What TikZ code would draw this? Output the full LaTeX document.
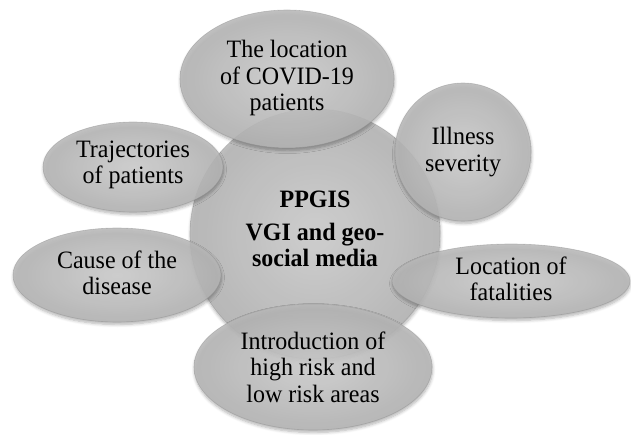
\documentclass[tikz,border=0pt]{standalone}
\usepackage{fontspec}
\setmainfont[FakeStretch=0.96]{Liberation Serif}
\usetikzlibrary{shapes.geometric,shadows.blur}

\definecolor{bubblein}{RGB}{210,210,210}
\definecolor{bubbleout}{RGB}{184,184,184}
\definecolor{bubbleedge}{RGB}{140,140,140}

\begin{document}
\begin{tikzpicture}[x=1pt,y=-1pt,
  bubble/.style={ellipse, inner sep=0pt, shade, inner color=bubblein,
    outer color=bubbleout, fill opacity=0.85, draw=bubbleedge,
    draw opacity=0.45, line width=0.6pt,
    blur shadow={shadow blur steps=6, shadow xshift=0.5pt,
      shadow yshift=-2.5pt, shadow opacity=35, shadow blur radius=3pt}},
  bubbletext/.style={align=center, text=black,
    font=\fontsize{25}{26.5}\selectfont}]

  % canvas: 631 x 435, y grows downwards
  \useasboundingbox (0,0) rectangle (631,435);

  % central hub
  \node[bubble, minimum width=250pt, minimum height=250pt] (hub) at (315,234) {};

  % surrounding themes
  \node[bubble, minimum width=214pt, minimum height=138pt] (covid) at (287,79) {};
  \node[bubble, minimum width=136pt, minimum height=138pt] (severity) at (463,152) {};
  \node[bubble, minimum width=180pt, minimum height=90pt] (traject) at (133,167) {};
  \node[bubble, minimum width=208pt, minimum height=94pt] (cause) at (117,275) {};
  \node[bubble, minimum width=238pt, minimum height=74pt] (fatal) at (511,281) {};
  \node[bubble, minimum width=238pt, minimum height=126pt] (risk) at (313,367) {};

  % texts
  \node[bubbletext] (hubT) at (315,229)
    {\textbf{PPGIS}\\[6pt]\textbf{VGI and geo-}\\\textbf{social media}};
  \node[bubbletext] (covidT) at ([yshift=1pt]covid.center) {The location\\of COVID-19\\patients};
  \node[bubbletext] (severityT) at (severity) {Illness\\severity};
  \node[bubbletext] (trajectT) at ([yshift=2pt]traject.center) {Trajectories\\of patients};
  \node[bubbletext] (causeT) at ([yshift=2pt]cause.center) {Cause of the\\disease};
  \node[bubbletext] (fatalT) at ([yshift=2pt]fatal.center) {Location of\\fatalities};
  \node[bubbletext] (riskT) at (risk) {Introduction of\\high risk and\\low risk areas};
\end{tikzpicture}
\end{document}
